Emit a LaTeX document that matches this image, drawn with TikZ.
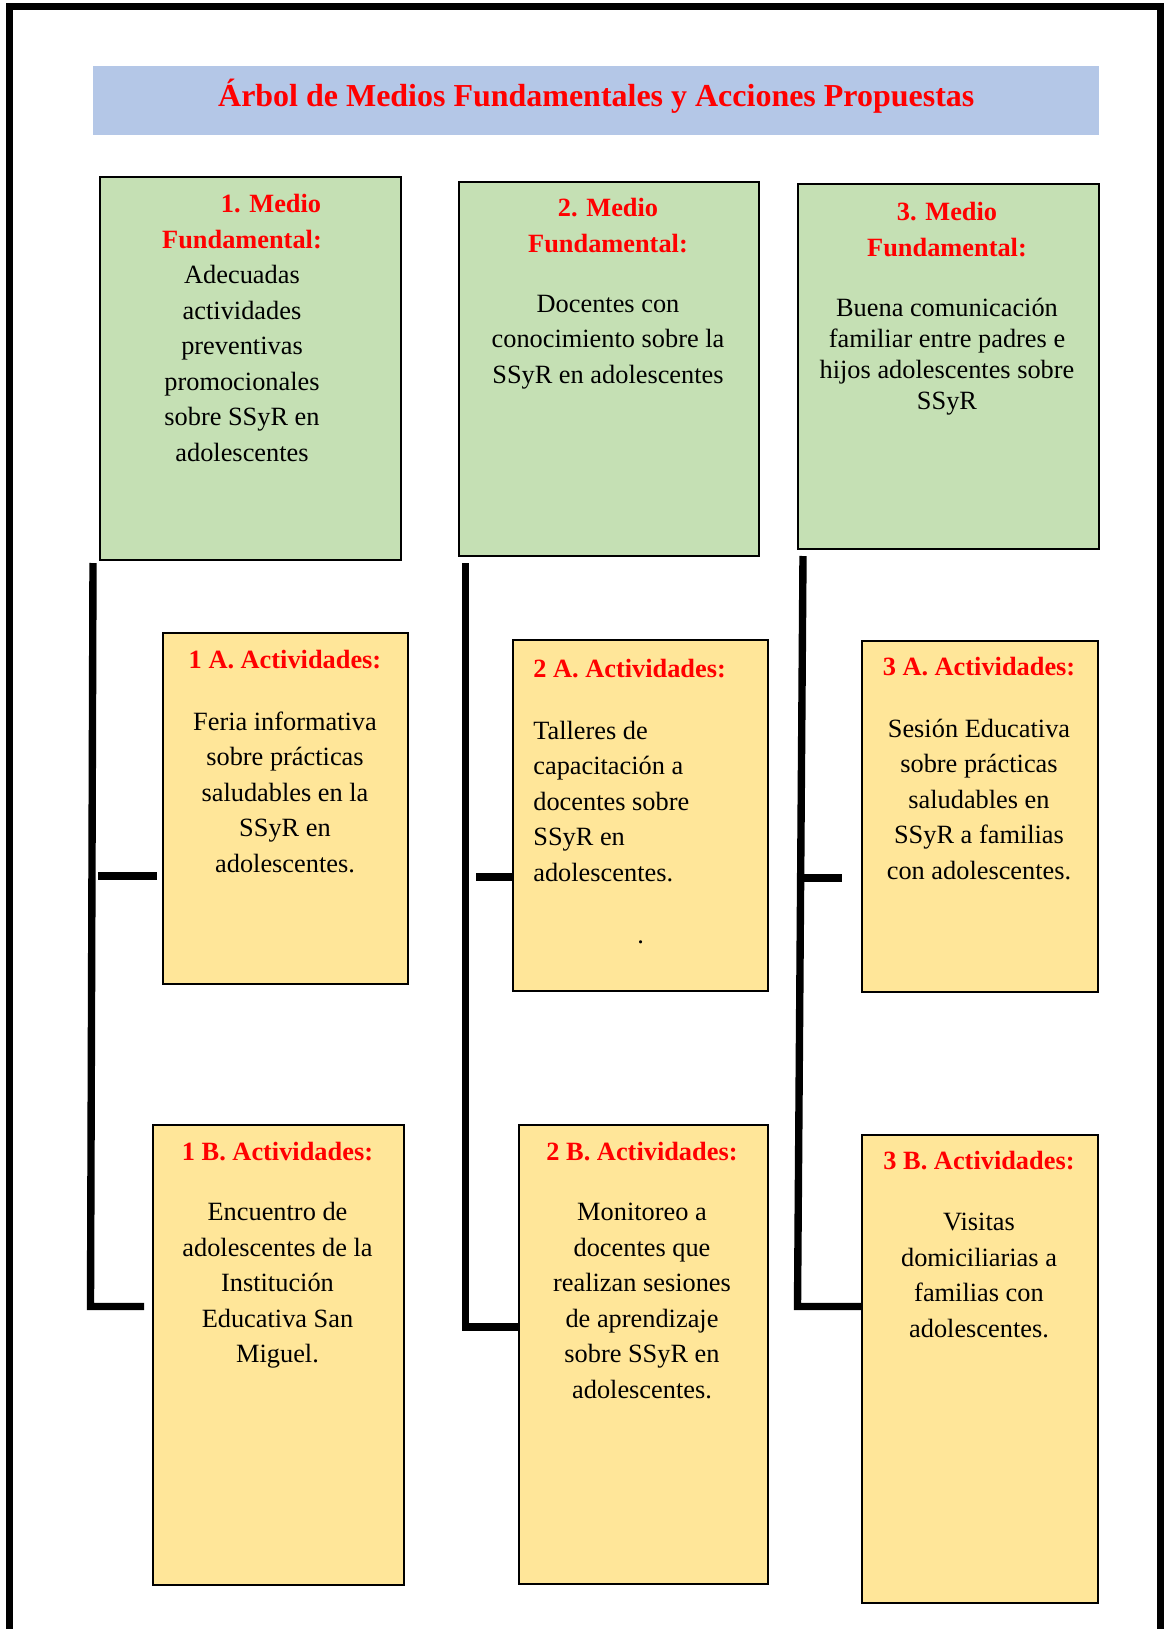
\documentclass[tikz,border=0pt]{standalone}
\usepackage{fontspec}
\setmainfont{Liberation Serif}
\definecolor{azultitulo}{HTML}{B4C7E7}
\definecolor{verdemedio}{HTML}{C5E0B4}
\definecolor{amarilloact}{HTML}{FFE699}
\definecolor{rojocab}{HTML}{FF0000}
\newcommand{\cuerpo}{\fontsize{15}{20.2}\selectfont}
\newcommand{\cabecera}[1]{\textcolor{rojocab}{\textbf{#1}}}
\begin{document}
\begin{tikzpicture}[x=0.02cm, y=-0.02cm,
    medio/.style={draw=black, line width=0.9pt, fill=verdemedio, anchor=north west, inner sep=0pt},
    actividad/.style={draw=black, line width=0.9pt, fill=amarilloact, anchor=north west, inner sep=0pt},
    texto/.style={inner sep=0pt, anchor=north, align=center, font=\cuerpo},
    tronco/.style={line width=4.2pt},
    rama/.style={line width=4.8pt}]
    \useasboundingbox (0,0) rectangle (1170,1629);
    % marco de la pagina
    \draw[line width=4pt] (9.5,1629) -- (9.5,6.5) -- (1160.5,6.5) -- (1160.5,1629);
    %
    \node[fill=azultitulo, minimum width=20.12cm, minimum height=1.38cm, inner sep=0pt,
          anchor=north west, text height=10pt, text depth=3.8pt,
          font=\fontsize{18.2}{22}\selectfont\bfseries, text=rojocab] (titulo) at (93,66)
          {Árbol de Medios Fundamentales y Acciones Propuestas};
    %
    % medios fundamentales
    \node[medio, minimum width=6.02cm, minimum height=7.66cm] (m1) at (99,176) {};
    \node[medio, minimum width=6cm,    minimum height=7.48cm] (m2) at (458,181) {};
    \node[medio, minimum width=6.02cm, minimum height=7.3cm]  (m3) at (797,183) {};
    % actividades
    \node[actividad, minimum width=4.9cm,  minimum height=7.02cm] (a1) at (162,632) {};
    \node[actividad, minimum width=5.1cm,  minimum height=7.02cm] (a2) at (512,639) {};
    \node[actividad, minimum width=4.72cm, minimum height=7.02cm] (a3) at (861,640) {};
    \node[actividad, minimum width=5.02cm, minimum height=9.2cm]  (b1) at (152,1124) {};
    \node[actividad, minimum width=4.98cm, minimum height=9.18cm] (b2) at (518,1124) {};
    \node[actividad, minimum width=4.72cm, minimum height=9.36cm] (b3) at (861,1134) {};
    %
    \node[texto] (tm1) at (242,194) {\hspace*{1.16cm}\cabecera{1. Medio}\\ \cabecera{Fundamental:}\\
      Adecuadas\\ actividades\\ preventivas\\ promocionales\\ sobre SSyR en\\ adolescentes};
    \node[texto] (tm2) at (608,198) {\cabecera{2. Medio}\\ \cabecera{Fundamental:}\\[14pt]
      Docentes con\\ conocimiento sobre la\\ SSyR en adolescentes};
    \node[texto] (tm3) at (947,202) {\cabecera{3. Medio}\\ \cabecera{Fundamental:}\\[14pt]
      Buena comunicación\\[-2.5pt] familiar entre padres e\\[-2.5pt] hijos adolescentes sobre\\[-2.5pt] SSyR};
    %
    \node[texto] (ta1) at (285,650) {\cabecera{1 A. Actividades:}\\[15pt]
      Feria informativa\\ sobre prácticas\\ saludables en la\\ SSyR en\\ adolescentes.};
    \node[texto, anchor=north west, align=left] (ta2) at (533,659) {\cabecera{2 A. Actividades:}\\[15pt]
      Talleres de\\ capacitación a\\ docentes sobre\\ SSyR en\\ adolescentes.\\[15pt] \hspace*{2.08cm}.};
    \node[texto] (ta3) at (979,657) {\cabecera{3 A. Actividades:}\\[15pt]
      Sesión Educativa\\ sobre prácticas\\ saludables en\\ SSyR a familias\\ con adolescentes.};
    \node[texto] (tb1) at (277.5,1142) {\cabecera{1 B. Actividades:}\\[14pt]
      Encuentro de\\ adolescentes de la\\ Institución\\ Educativa San\\ Miguel.};
    \node[texto] (tb2) at (642,1142) {\cabecera{2 B. Actividades:}\\[14pt]
      Monitoreo a\\ docentes que\\ realizan sesiones\\ de aprendizaje\\ sobre SSyR en\\ adolescentes.};
    \node[texto] (tb3) at (979,1151) {\cabecera{3 B. Actividades:}\\[14.5pt]
      Visitas\\ domiciliarias a\\ familias con\\ adolescentes.};
    %
    % troncos y ramas
    \coordinate (t1a) at (93,563);    \coordinate (t1b) at (90.5,1306.5);
    \coordinate (t2a) at (465.5,563); \coordinate (t2b) at (465.5,1327);
    \coordinate (t3a) at (803,556);   \coordinate (t3b) at (797.5,1306.5);
    \coordinate (r1a) at (98,876);
    \coordinate (r2a) at (476,877);
    \coordinate (r3a) at (801,878);
    %
    \draw[tronco] (t1a) -- (t1b) -- ([xshift=-0.16cm]t1b -| b1.west);
    \draw[tronco] (t2a) -- (t2b) -- (t2b -| b2.west);
    \draw[tronco] (t3a) -- (t3b) -- (t3b -| b3.west);
    \draw[rama, shorten >=0.1cm]  (r1a) -- (r1a -| a1.west);
    \draw[rama]                   (r2a) -- (r2a -| a2.west);
    \draw[rama, shorten >=0.38cm] (r3a) -- (r3a -| a3.west);
  \end{tikzpicture}
\end{document}
